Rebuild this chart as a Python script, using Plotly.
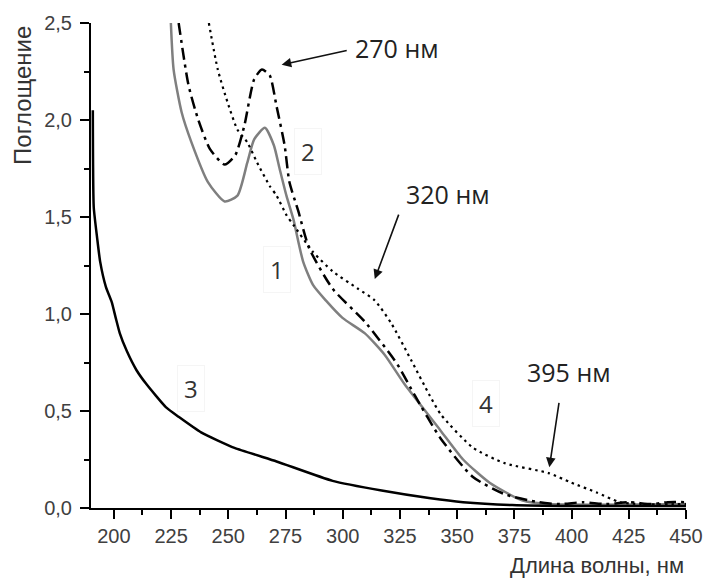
import plotly.graph_objects as go

# Curve 1 (gray solid)
wl1 = [224.9, 226.1, 229.6, 233.9, 241.1, 248.4, 254.0, 258.3, 261.3, 266.0, 269.9, 272.4, 275.4, 278.4,
       282.7, 287.0, 292.6, 299.9, 309.7, 318.3, 326.9, 342.7, 352.6, 364.2, 378.3, 390.0, 450.0]
ab1 = [2.50, 2.26, 2.04, 1.885, 1.68, 1.58, 1.61, 1.78, 1.90, 1.96, 1.87, 1.75, 1.61, 1.49,
       1.27, 1.15, 1.07, 0.98, 0.90, 0.79, 0.64, 0.40, 0.25, 0.13, 0.04, 0.02, 0.02]

# Curve 2 (black dash-dot)
wl2 = [228.3, 232.6, 236.9, 242.0, 248.4, 253.1, 257.0, 261.3, 264.7, 268.1, 271.1, 274.6, 276.7, 280.6,
       285.3, 295.6, 309.7, 323.9, 331.5, 342.7, 356.9, 371.0, 385.6, 395.0, 405.0, 415.0, 425.0, 435.0, 442.0, 450.0]
ab2 = [2.50, 2.18, 2.00, 1.85, 1.77, 1.82, 1.97, 2.21, 2.26, 2.23, 2.07, 1.87, 1.68, 1.53,
       1.34, 1.13, 0.96, 0.74, 0.58, 0.36, 0.16, 0.07, 0.03, 0.02, 0.03, 0.02, 0.03, 0.02, 0.03, 0.03]

# Curve 3 (black solid)
wl3 = [190.8, 191.2, 192.7, 194.0, 196.5, 199.1, 200.8, 202.6, 205.6, 209.9, 214.1, 222.7, 228.3, 238.1,
       252.7, 271.1, 295.6, 317.0, 338.4, 352.6, 374.0, 400.0, 450.0]
ab3 = [2.05, 1.55, 1.39, 1.27, 1.14, 1.06, 0.98, 0.90, 0.81, 0.71, 0.64, 0.52, 0.47, 0.39,
       0.31, 0.24, 0.14, 0.09, 0.05, 0.03, 0.015, 0.01, 0.01]

# Curve 4 (black dotted)
wl4 = [241.5, 245.4, 249.7, 254.0, 258.3, 262.6, 268.1, 271.1, 275.4, 278.4, 287.0, 295.6, 306.7, 314.0,
       321.3, 330.0, 338.0, 343.0, 357.0, 371.0, 390.0, 400.0, 411.0, 421.0, 430.0, 450.0]
ab4 = [2.50, 2.26, 2.09, 1.95, 1.885, 1.78, 1.66, 1.61, 1.51, 1.46, 1.32, 1.22, 1.13, 1.07,
       0.95, 0.76, 0.58, 0.48, 0.31, 0.23, 0.18, 0.13, 0.08, 0.03, 0.02, 0.02]

x_ticks = [200, 225, 250, 275, 300, 325, 350, 375, 400, 425, 450]
y_ticks = [0.0, 0.5, 1.0, 1.5, 2.0, 2.5]

curve_labels = ["1", "2", "3", "4"]
label_pos = [(271.2, 1.23), (284.9, 1.84), (233.9, 0.615), (362.4, 0.54)]

peak_texts = ["270 нм", "320 нм", "395 нм"]
peak_text_pos = [(304.6, 2.37), (326.9, 1.62), (379.6, 0.70)]
arrow_heads = [(273.3, 2.285), (314.0, 1.18), (390.3, 0.21)]
arrow_tails = [(302.4, 2.36), (324.7, 1.52), (394.6, 0.55)]

fig = go.Figure()
fig.add_trace(go.Scatter(x=wl1, y=ab1, mode="lines",
                         line=dict(color="#7f7f7f", width=2.5, shape="spline", smoothing=0.6), showlegend=False))
fig.add_trace(go.Scatter(x=wl2, y=ab2, mode="lines",
                         line=dict(color="black", width=2.5, dash="12px,5px,3px,5px", shape="spline", smoothing=0.6),
                         showlegend=False))
fig.add_trace(go.Scatter(x=wl3, y=ab3, mode="lines",
                         line=dict(color="black", width=2.5, shape="spline", smoothing=0.5), showlegend=False))
fig.add_trace(go.Scatter(x=wl4, y=ab4, mode="lines",
                         line=dict(color="black", width=2.2, dash="2.5px,4px", shape="spline", smoothing=0.6),
                         showlegend=False))

annotations = []
for t, (lx, ly) in zip(curve_labels, label_pos):
    annotations.append(dict(x=lx, y=ly, xref="x", yref="y", text=t, showarrow=False,
                            font=dict(family="Open Sans", size=24, color="#333333"),
                            bordercolor="#f5f5f5", borderwidth=1, borderpad=6))
for t, (tx, ty) in zip(peak_texts, peak_text_pos):
    annotations.append(dict(x=tx, y=ty, xref="x", yref="y", text=t, showarrow=False,
                            xanchor="left", font=dict(family="Open Sans", size=25, color="#222222")))
for (hx, hy), (tx, ty) in zip(arrow_heads, arrow_tails):
    annotations.append(dict(x=hx, y=hy, xref="x", yref="y", ax=tx, ay=ty, axref="x", ayref="y",
                            text="", showarrow=True, arrowhead=2, arrowsize=1.2, arrowwidth=1.6,
                            arrowcolor="#111111"))
annotations.append(dict(x=-0.114, y=0.85, xref="paper", yref="paper", text="Поглощение", textangle=-90,
                        xanchor="center", yanchor="middle",
                        showarrow=False, font=dict(family="Liberation Sans", size=24, color="#333333")))
annotations.append(dict(x=1.0, y=-0.119, xref="paper", yref="paper", text="Длина волны, нм",
                        xanchor="right", yanchor="middle", showarrow=False,
                        font=dict(family="Liberation Sans", size=22, color="#333333")))

fig.update_layout(
    width=715, height=580,
    margin=dict(l=91, r=18, t=20, b=72),
    paper_bgcolor="white", plot_bgcolor="white",
    separators=", ",
    annotations=annotations,
    xaxis=dict(range=[190, 450], tickvals=x_ticks, ticks="outside", ticklen=9, tickwidth=2,
               tickcolor="black", showline=True, linecolor="black", linewidth=2, showgrid=False,
               zeroline=False, ticklabelstandoff=0,
               tickfont=dict(family="Liberation Sans", size=20, color="#404040"),
               minor=dict(ticks="outside", ticklen=5, tickwidth=2, tickcolor="black",
                          tickvals=[212.5, 237.5, 262.5, 287.5, 312.5, 337.5, 362.5, 387.5, 412.5, 437.5])),
    yaxis=dict(range=[0, 2.5], tickvals=y_ticks, tickformat=".1f", ticks="outside", ticklen=9, tickwidth=2,
               tickcolor="black", showline=True, linecolor="black", linewidth=2, showgrid=False,
               zeroline=False, ticklabelstandoff=4,
               tickfont=dict(family="Liberation Sans", size=20, color="#404040"),
               minor=dict(ticks="outside", ticklen=5, tickwidth=2, tickcolor="black",
                          tickvals=[0.25, 0.75, 1.25, 1.75, 2.25])),
)

fig.write_html("out.html")
